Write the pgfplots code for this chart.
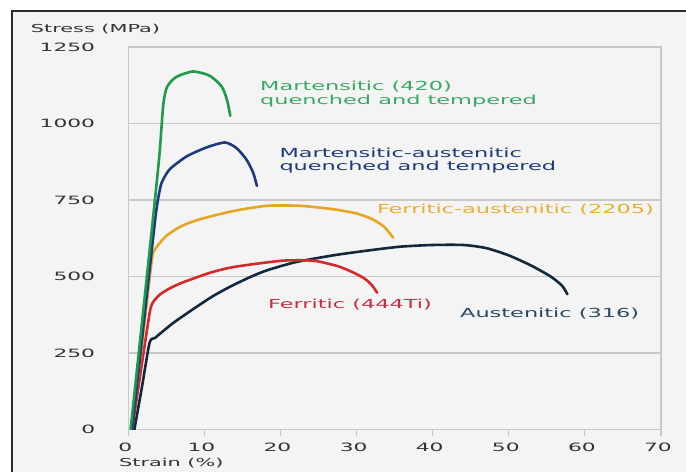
\documentclass[border=0pt]{standalone}
\usepackage{fontspec}
\setmainfont{DejaVu Sans}
\newfontfamily\axfont{DejaVu Sans}[FakeStretch=1.9]
\newfontfamily\lbfont{DejaVu Sans}[FakeStretch=1.8]
\usepackage{pgfplots}
\pgfplotsset{compat=1.18}
\definecolor{bgc}{HTML}{F4F4F4}
\definecolor{framec}{HTML}{2A2A2A}
\definecolor{gridc}{HTML}{C8C8C8}
\definecolor{tickc}{HTML}{333333}
\definecolor{cgreen}{HTML}{1E9A4A}
\definecolor{cgreent}{HTML}{3AA865}
\definecolor{cnavy}{HTML}{1D3A7C}
\definecolor{cyellow}{HTML}{E6A622}
\definecolor{cyellowt}{HTML}{E8B030}
\definecolor{cred}{HTML}{D42A2A}
\definecolor{credt}{HTML}{C83040}
\definecolor{caus}{HTML}{14283C}
\definecolor{caust}{HTML}{2A4A60}
\begin{document}
\begin{tikzpicture}
\useasboundingbox (0,0) rectangle (686bp,472bp);
\fill[white] (0,0) rectangle (686bp,472bp);
\fill[bgc] (12bp,0) rectangle (686bp,461bp);
\draw[framec, line width=2bp] (12bp,0) -- (12bp,461bp) -- (686bp,461bp);
\begin{axis}[
  at={(128.3bp,42.5bp)}, anchor=south west,
  scale only axis, width=532.7bp, height=382.5bp,
  xmin=0, xmax=70, ymin=0, ymax=1250,
  xtick={0,10,...,70}, ytick={0,250,...,1250},
  axis line style={gridc, line width=1.5bp},
  ymajorgrids, major grid style={gridc, line width=1.2bp},
  ytick style={draw=none},
  xtick style={gridc, line width=1.2bp},
  tick align=outside, major tick length=7bp,
  tick pos=left,
  /pgf/number format/assume math mode=true,
  /pgf/number format/1000 sep={},
  ticklabel style={font=\axfont\fontsize{11.5}{13}\selectfont, text=tickc},
  yticklabel style={anchor=east, inner sep=0pt, xshift=-26bp},
  xticklabel style={anchor=north, inner sep=0pt, yshift=-6bp, xshift=-3bp},
  axis background/.style={fill=bgc},
  every axis plot/.append style={line width=2.6bp, line join=round, line cap=round, smooth, tension=0.4},
]
% Austenitic (316)
\addplot[caus] coordinates {(0.8,0) (1.8,140) (2.8,284) (3.5,299) (4.5,320) (6.0,350) (8.5,393) (11.0,434) (13.4,467) (16.0,498) (18.2,520) (22.0,547) (26.9,569) (30.0,580) (33.1,590) (36.0,598) (40.0,603) (44.0,603) (47.0,593) (50.0,569) (53.0,535) (55.5,500) (57.0,470) (57.7,442)};
% Ferritic (444Ti)
\addplot[cred] coordinates {(0.5,0) (1.7,200) (2.8,380) (3.2,414) (4.1,440) (5.5,462) (7.2,481) (10.7,512) (13.4,529) (16.0,539) (18.2,546) (20.4,552) (23.0,553) (24.8,550) (27.5,534) (29.4,515) (31.0,494) (32.0,472) (32.7,447)};
% Ferritic-austenitic (2205)
\addplot[cyellow] coordinates {(0.4,0) (1.8,280) (3.1,555) (3.6,592) (5.0,633) (7.0,665) (9.4,687) (13.8,714) (18.2,731) (22.6,731) (26.9,720) (30.0,706) (32.0,688) (33.6,663) (34.8,627)};
% Martensitic-austenitic
\addplot[cnavy] coordinates {(0.5,0) (2.0,340) (3.6,700) (4.2,790) (4.6,818) (5.5,852) (7.7,893) (10.3,922) (12.7,938) (14.2,920) (15.5,883) (16.4,840) (16.9,796)};
% Martensitic (420)
\addplot[cgreen] coordinates {(0.3,0) (1.8,350) (3.3,703) (4.1,900) (4.6,1063) (5.1,1120) (6.3,1152) (8.5,1170) (10.7,1156) (12.3,1120) (13.0,1074) (13.4,1025)};
\end{axis}
\begin{scope}[every node/.style={inner sep=0pt, font=\lbfont\fontsize{12.5}{14}\selectfont}]
\node[anchor=west, text=cgreent] at (260bp,385.3bp) {Martensitic (420)};
\node[anchor=west, text=cgreent] at (260bp,371.3bp) {quenched and tempered};
\node[anchor=west, text=cnavy] at (279.3bp,318.7bp) {Martensitic-austenitic};
\node[anchor=west, text=cnavy] at (279.3bp,305.3bp) {quenched and tempered};
\node[anchor=east, text=cyellowt] at (654bp,262bp) {Ferritic-austenitic (2205)};
\node[anchor=west, text=credt] at (268bp,167bp) {Ferritic (444Ti)};
\node[anchor=west, text=caust] at (460bp,158bp) {Austenitic (316)};
\end{scope}
\begin{scope}[every node/.style={inner sep=0pt, font=\axfont\fontsize{11}{13}\selectfont, text=tickc}]
\node[anchor=west] at (30.7bp,443.3bp) {Stress (MPa)};
\node[anchor=west] at (119bp,9bp) {Strain (\%)};
\end{scope}
\end{tikzpicture}
\end{document}
